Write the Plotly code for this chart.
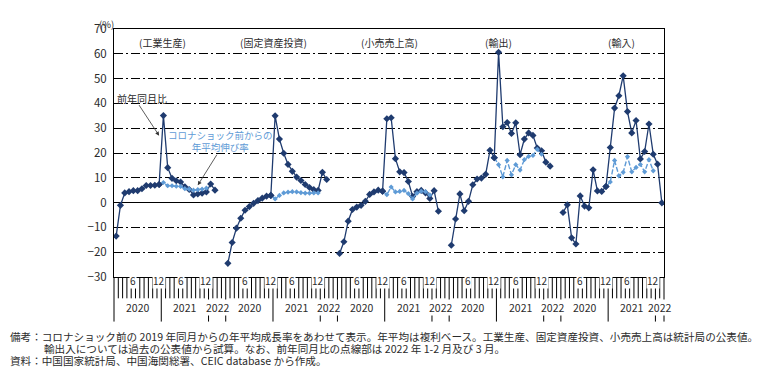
import plotly.graph_objects as go

# ---------------- data ----------------
month_labels = ["1-2", "3", "4", "5", "6", "7", "8", "9", "10", "11", "12"]
categories = ([f"2020/{m}" for m in month_labels] +
              [f"2021/{m}" for m in month_labels] +
              ["2022/1-2", "2022/3"])

panel_titles = ["(工業生産)", "(固定資産投資)", "(小売売上高)", "(輸出)", "(輸入)"]

ip_yoy = [-13.5, -1.1, 3.9, 4.4, 4.8, 4.8, 5.6, 6.9, 6.9, 7.0, 7.3,
          35.1, 14.1, 9.8, 8.8, 8.3, 6.4, 5.3, 3.1, 3.5, 3.8, 4.3,
          7.5, 5.0]
fai_yoy = [-24.5, -16.1, -10.3, -6.3, -3.1, -1.6, -0.3, 0.8, 1.8, 2.6, 2.9,
           35.0, 25.6, 19.9, 15.4, 12.6, 10.3, 8.9, 7.3, 6.1, 5.2, 4.9,
           12.2, 9.3]
retail_yoy = [-20.5, -15.8, -7.5, -2.8, -1.8, -1.1, 0.5, 3.3, 4.3, 5.0, 4.6,
              33.8, 34.2, 17.7, 12.4, 12.1, 8.5, 2.5, 4.4, 4.9, 3.9, 1.7,
              4.8, -3.5]
export_yoy = [-17.2, -6.6, 3.5, -3.3, 0.5, 7.2, 9.5, 9.9, 11.4, 21.1, 18.1,
              60.6, 30.6, 32.3, 27.9, 32.2, 19.3, 25.6, 28.1, 27.1, 22.0, 20.9,
              16.3, 14.7]
import_yoy = [-4.0, -0.9, -14.2, -16.7, 2.7, -1.4, -2.1, 13.2, 4.7, 4.5, 6.5,
              22.2, 38.1, 43.1, 51.1, 36.7, 28.1, 33.1, 17.6, 20.6, 31.7, 19.5,
              15.5, -0.1]

# 2-year average growth vs 2019 (from 2020/12 to 2021/12)
ip_avg = [7.3, 8.1, 6.8, 6.8, 6.6, 6.5, 5.6, 5.4, 5.0, 5.2, 5.4, 5.8]
fai_avg = [2.9, 1.5, 2.9, 3.9, 4.2, 4.4, 4.3, 4.0, 3.8, 3.8, 3.9, 3.9]
retail_avg = [4.6, 3.2, 6.3, 4.3, 4.5, 4.9, 3.6, 1.5, 3.8, 4.6, 4.4, 3.1]
export_avg = [18.1, 15.3, 10.4, 17.0, 11.2, 15.3, 13.1, 17.3, 18.6, 19.0, 21.5, 19.5]
import_avg = [6.5, 8.3, 17.0, 10.8, 12.2, 18.5, 12.4, 14.2, 15.4, 12.4, 17.3, 12.8]

yoy_series = [ip_yoy, fai_yoy, retail_yoy, export_yoy, import_yoy]
avg_series = [ip_avg, fai_avg, retail_avg, export_avg, import_avg]
avg_start = 10

panel_slots = [26, 26, 26, 26, 24]   # categories incl. blank gap per panel
y_ticks = list(range(-30, 71, 10))

NAVY = "#1f3b6f"
LBLUE = "#5f9bd6"
FONT = "Noto Sans CJK JP"
TXT = "#2b2b2b"

fig = go.Figure()

offsets = []
o = 0
for s in panel_slots:
    offsets.append(o)
    o += s
total = o

for p in range(5):
    off = offsets[p]
    xs = [off + i + 0.5 for i in range(len(categories))]
    fig.add_trace(go.Scatter(
        x=xs, y=yoy_series[p], mode="lines+markers",
        line=dict(color=NAVY, width=1.3),
        marker=dict(symbol="diamond", size=5.5, color=NAVY),
        customdata=categories, hovertemplate="%{customdata}: %{y}<extra></extra>",
        showlegend=False))
    xa = [off + avg_start + i + 0.5 for i in range(len(avg_series[p]))]
    fig.add_trace(go.Scatter(
        x=xa, y=avg_series[p], mode="lines+markers",
        line=dict(color=LBLUE, width=1.4, dash="5px,2px"),
        marker=dict(symbol="diamond", size=4, color=LBLUE),
        showlegend=False))
for p in range(5):
    off = offsets[p]
    fig.add_trace(go.Scatter(
        x=[off + avg_start + 0.5], y=[yoy_series[p][avg_start]], mode="markers",
        marker=dict(symbol="diamond", size=5.5, color=NAVY), showlegend=False))

# ---------------- layout geometry (page offset of 8px by body margin) ----------------
L, T = 106, 13
PW, PH = 550, 256
W, H = 752, 362
R = W - L - PW
B = H - T - PH

short_y = -22 / PH
long_y = -46 / PH
shapes = []
long_pos = set()
for p in range(5):
    off = offsets[p]
    long_pos.update([off, off + 11, off + 22])
long_pos.add(total)
for k in range(total + 1):
    y1 = long_y if k in long_pos else short_y
    shapes.append(dict(type="line", xref="paper", yref="paper",
                       x0=k / total, x1=k / total, y0=0, y1=y1,
                       line=dict(color="black", width=1)))

annotations = []
lab_y = -12 / PH
yr_y = -40 / PH
for p in range(5):
    off = offsets[p]
    for base in (0, 11):
        for idx, lab in ((4, "6"), (10, "12")):
            annotations.append(dict(x=off + base + idx + 0.5, y=lab_y, xref="x", yref="paper",
                                    text=lab, showarrow=False, bgcolor="white", borderpad=0,
                                    font=dict(size=10, color=TXT, family=FONT)))
    yrs = [("2020", off + 5.5), ("2021", off + 16.5),
           ("2022", off + 22 + (panel_slots[p] - 22) / 2)]
    for t, xc in yrs:
        annotations.append(dict(x=xc, y=yr_y, xref="x", yref="paper", text=t,
                                showarrow=False, bgcolor="white", borderpad=0,
                                font=dict(size=10.5, color=TXT, family=FONT)))

title_x = [11.2, 37.2, 64.2, 89.4, 118.2]
for p in range(5):
    annotations.append(dict(x=title_x[p], y=64.5, xref="x", yref="y", text=panel_titles[p],
                            showarrow=False, font=dict(size=10, color=TXT, family=FONT)))

annotations.append(dict(x=6.5, y=41.8, xref="x", yref="y", text="前年同月比", showarrow=False,
                        font=dict(size=10, color=TXT, family=FONT)))
annotations.append(dict(x=10.5, y=27, xref="x", yref="y", ax=-21, ay=-32, text="",
                        showarrow=True, arrowhead=2, arrowsize=1, arrowwidth=0.8, arrowcolor="#333"))
annotations.append(dict(x=24.9, y=25.0, xref="x", yref="y",
                        text="コロナショック前からの<br>年平均伸び率", showarrow=False,
                        font=dict(size=9.5, color=LBLUE, family=FONT)))
annotations.append(dict(x=19.5, y=7.0, xref="x", yref="y", ax=20, ay=-32, text="",
                        showarrow=True, arrowhead=2, arrowsize=1, arrowwidth=0.8, arrowcolor="#333"))

annotations.append(dict(x=-8 / PW, y=1 + T / PH, xref="paper", yref="paper", text="(%)",
                        xanchor="center", yanchor="top", borderpad=0,
                        showarrow=False, font=dict(size=9.5, color=TXT, family=FONT)))

# footnotes (positions in page pixels)
notes = [
    (8, 338, "備考：コロナショック前の 2019 年同月からの年平均成長率をあわせて表示。年平均は複利ベース。工業生産、固定資産投資、小売売上高は統計局の公表値。"),
    (42, 351, "輸出入については過去の公表値から試算。なお、前年同月比の点線部は 2022 年 1-2 月及び 3 月。"),
    (8, 363, "資料：中国国家統計局、中国海関総署、CEIC database から作成。"),
]
for px, py, t in notes:
    annotations.append(dict(x=(px - 8 - L) / PW, y=(T + PH - (py - 8)) / PH,
                            xref="paper", yref="paper",
                            xanchor="left", yanchor="middle", text=t, showarrow=False,
                            font=dict(size=10.6, color=TXT, family=FONT)))

fig.update_layout(
    width=W, height=H, margin=dict(l=L, r=R, t=T, b=B),
    paper_bgcolor="white", plot_bgcolor="white",
    font=dict(family=FONT, color=TXT),
    xaxis=dict(range=[0, total], showgrid=False, showticklabels=False, ticks="",
               showline=True, mirror=True, linecolor="black", linewidth=1, zeroline=False),
    yaxis=dict(range=[-30, 70], tickvals=y_ticks, ticks="", showline=True, mirror=True,
               linecolor="black", linewidth=1, showgrid=True, gridcolor="black", gridwidth=1,
               griddash="9px,3px,2px,3px", zeroline=True, zerolinecolor="black", zerolinewidth=1,
               tickfont=dict(size=11.5, color=TXT, family=FONT), ticklabelstandoff=4),
    shapes=shapes, annotations=annotations, showlegend=False,
)

fig.write_html("out.html")
